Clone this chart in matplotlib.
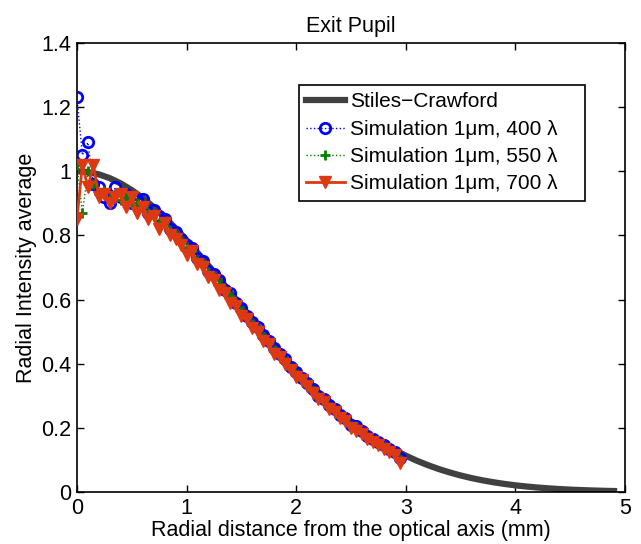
import matplotlib
matplotlib.use("Agg")
import matplotlib.pyplot as plt

plt.rcParams['font.family'] = ['Liberation Sans', 'DejaVu Sans']

# Stiles-Crawford curve samples
sc_x = [0.0, 0.1, 0.2, 0.3, 0.4, 0.5, 0.6, 0.7, 0.8, 0.9, 1.0, 1.1, 1.2, 1.3, 1.4,
        1.5, 1.6, 1.7, 1.8, 1.9, 2.0, 2.1, 2.2, 2.3, 2.4, 2.5, 2.6, 2.7, 2.8, 2.9,
        3.0, 3.1, 3.2, 3.3, 3.4, 3.5, 3.6, 3.7, 3.8, 3.9, 4.0, 4.1, 4.2, 4.3, 4.4,
        4.5, 4.6, 4.7, 4.8, 4.9]
sc_y = [1.000, 0.9976, 0.9904, 0.9785, 0.9620, 0.9413, 0.9166, 0.8882, 0.8565, 0.8220,
        0.7851, 0.7462, 0.7057, 0.6643, 0.6223, 0.5801, 0.5382, 0.4969, 0.4565, 0.4174,
        0.3798, 0.3440, 0.3100, 0.2780, 0.2481, 0.2204, 0.1948, 0.1713, 0.1500, 0.1306,
        0.1133, 0.0977, 0.0839, 0.0717, 0.0610, 0.0516, 0.0434, 0.0364, 0.0304, 0.0252,
        0.0208, 0.0171, 0.0140, 0.0114, 0.0092, 0.0074, 0.0060, 0.0048, 0.0038, 0.0030]

# Simulation radial positions (mm)
sim_x = [0.00, 0.05, 0.10, 0.15, 0.20, 0.25, 0.30, 0.35, 0.40, 0.45,
         0.50, 0.55, 0.60, 0.65, 0.70, 0.75, 0.80, 0.85, 0.90, 0.95,
         1.00, 1.05, 1.10, 1.15, 1.20, 1.25, 1.30, 1.35, 1.40, 1.45,
         1.50, 1.55, 1.60, 1.65, 1.70, 1.75, 1.80, 1.85, 1.90, 1.95,
         2.00, 2.05, 2.10, 2.15, 2.20, 2.25, 2.30, 2.35, 2.40, 2.45,
         2.50, 2.55, 2.60, 2.65, 2.70, 2.75, 2.80, 2.85, 2.90, 2.95]

sim_400 = [1.23, 1.05, 1.09, 0.96, 0.95, 0.92, 0.90, 0.95, 0.92, 0.93,
           0.90, 0.91, 0.915, 0.87, 0.88, 0.86, 0.85, 0.82, 0.81, 0.79,
           0.77, 0.76, 0.73, 0.72, 0.69, 0.68, 0.66, 0.63, 0.62, 0.59,
           0.575, 0.55, 0.53, 0.515, 0.49, 0.47, 0.45, 0.43, 0.415, 0.39,
           0.375, 0.355, 0.34, 0.32, 0.30, 0.29, 0.27, 0.26, 0.24, 0.23,
           0.21, 0.205, 0.19, 0.175, 0.165, 0.155, 0.145, 0.135, 0.125, 0.105]

sim_550 = [1.02, 0.87, 1.00, 0.96, 0.93, 0.94, 0.92, 0.93, 0.91, 0.92,
           0.90, 0.90, 0.89, 0.87, 0.87, 0.84, 0.83, 0.81, 0.80, 0.78,
           0.76, 0.75, 0.72, 0.71, 0.685, 0.67, 0.65, 0.63, 0.61, 0.59,
           0.565, 0.545, 0.525, 0.505, 0.48, 0.465, 0.44, 0.425, 0.405, 0.385,
           0.365, 0.35, 0.33, 0.315, 0.295, 0.285, 0.265, 0.255, 0.235, 0.225,
           0.205, 0.20, 0.185, 0.17, 0.16, 0.15, 0.14, 0.13, 0.12, 0.10]

sim_700 = [0.85, 1.02, 0.95, 1.02, 0.92, 0.93, 0.90, 0.92, 0.93, 0.89,
           0.92, 0.87, 0.89, 0.85, 0.86, 0.82, 0.84, 0.80, 0.79, 0.77,
           0.74, 0.75, 0.71, 0.70, 0.67, 0.66, 0.63, 0.62, 0.59, 0.58,
           0.55, 0.54, 0.51, 0.50, 0.47, 0.46, 0.43, 0.42, 0.40, 0.38,
           0.36, 0.35, 0.33, 0.31, 0.29, 0.28, 0.26, 0.25, 0.23, 0.22,
           0.20, 0.19, 0.18, 0.165, 0.155, 0.145, 0.135, 0.125, 0.115, 0.09]

labels = ['Stiles\u2212Crawford',
          'Simulation 1\u03bcm, 400 \u03bb',
          'Simulation 1\u03bcm, 550 \u03bb',
          'Simulation 1\u03bcm, 700 \u03bb']

x_ticks = [0, 1, 2, 3, 4, 5]
y_ticks = [0, 0.2, 0.4, 0.6, 0.8, 1.0, 1.2, 1.4]
y_tick_labels = ['0', '0.2', '0.4', '0.6', '0.8', '1', '1.2', '1.4']

fig = plt.figure(figsize=(6.41, 5.44), dpi=100)
ax = fig.add_axes([0.120, 0.0956, 0.855, 0.8254])

ax.plot(sc_x, sc_y, color='#404040', lw=4.5, label=labels[0], zorder=2)
ax.plot(sim_x, sim_400, color='#0000ff', ls=':', lw=1, marker='o', ms=7.5,
        mfc='none', mec='#0000ff', mew=2, label=labels[1], zorder=3)
ax.plot(sim_x, sim_550, color='#008000', ls=':', lw=1, marker='+', ms=7,
        mew=2, label=labels[2], zorder=4)
ax.plot(sim_x, sim_700, color='#dc3912', ls='-', lw=2, marker='v', ms=9,
        mfc='#dc3912', mec='#dc3912', label=labels[3], zorder=5)

ax.set_xlim(0, 5)
ax.set_ylim(0, 1.4)
ax.set_xticks(x_ticks)
ax.set_xticklabels([str(t) for t in x_ticks])
ax.set_yticks(y_ticks)
ax.set_yticklabels(y_tick_labels)
ax.tick_params(direction='in', top=True, right=True, labelsize=15.5, length=5, width=1, pad=4)
for s in ax.spines.values():
    s.set_linewidth(1.2)

ax.set_title('Exit Pupil', fontsize=15.5, pad=8)
ax.set_xlabel('Radial distance from the optical axis (mm)', fontsize=15.5, labelpad=1)
ax.set_ylabel('Radial Intensity average', fontsize=15.5, labelpad=3)

leg = ax.legend(loc='upper left', bbox_to_anchor=(0.405, 0.646, 0.522, 0.26), mode='expand',
                fontsize=15,
                frameon=True, fancybox=False, edgecolor='black', framealpha=1,
                handlelength=1.85, handletextpad=0.25, borderpad=0.35, labelspacing=0.4,
                borderaxespad=0)
leg.get_frame().set_linewidth(1.2)

fig.savefig('out.png', dpi=100)
